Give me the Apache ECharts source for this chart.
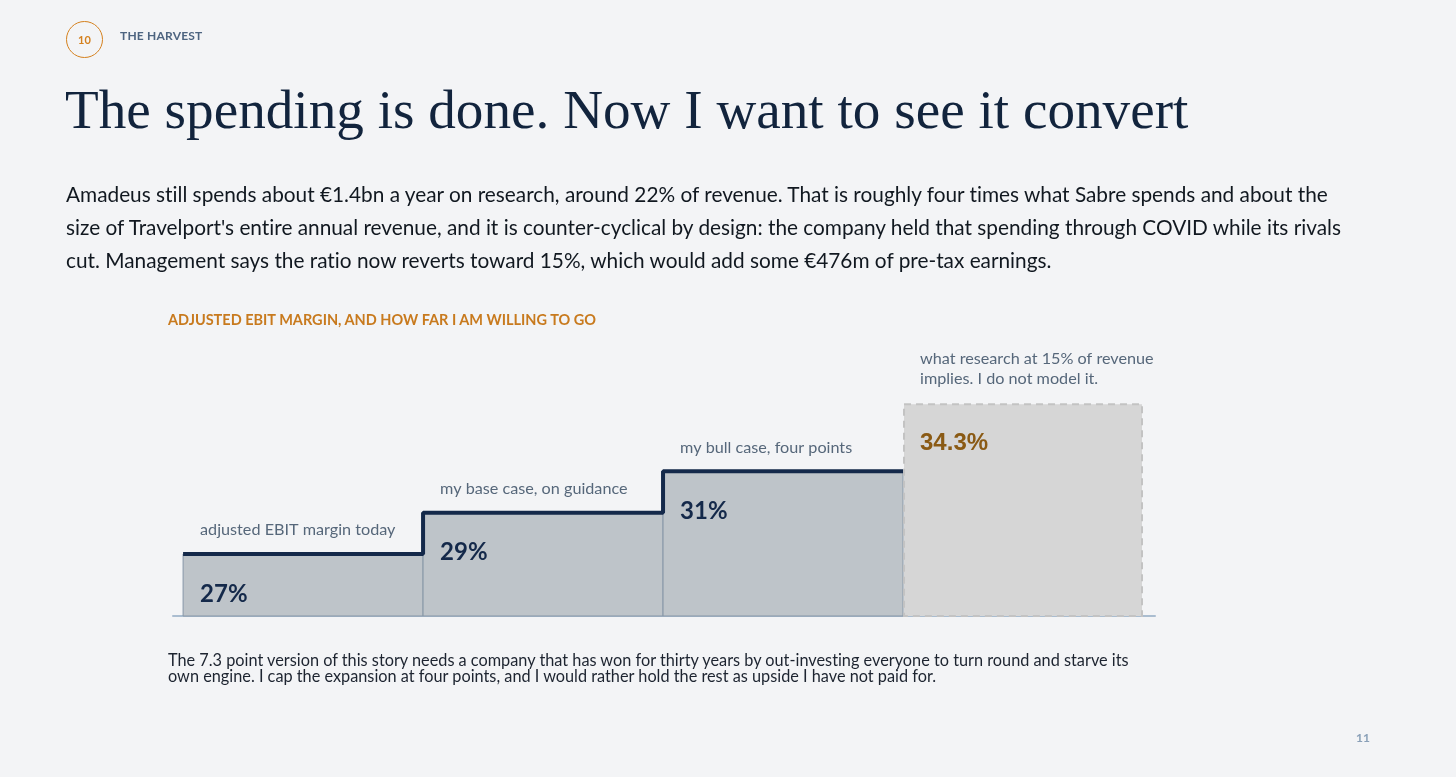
<!DOCTYPE html>
<html>
<head>
<meta charset="utf-8">
<script src="https://cdn.jsdelivr.net/npm/echarts@6/dist/echarts.min.js"></script>
<style>
  html, body { margin: 0; padding: 0; background: #f3f4f6; }
  body { width: 1456px; height: 777px; position: relative; overflow: hidden; font-family: Lato, "Noto Sans", sans-serif;
         font-variant-ligatures: none; }
  #chart { position: absolute; left: 0; top: 0; width: 1456px; height: 777px; }
  .abs { position: absolute; white-space: nowrap; }
  .badge { left: 66px; top: 21px; width: 37px; height: 37px; border: 1.5px solid #d4801e; border-radius: 50%;
           box-sizing: border-box; color: #d4801e; font-weight: 700; font-size: 11px; text-align: center; line-height: 35px; }
  .kicker { left: 120px; top: 28px; color: #4d6480; font-weight: 700; font-size: 12px; letter-spacing: 0.2px; }
  .title { left: 65px; top: 78px; color: #12243d; font-family: "Liberation Serif", serif; font-size: 55.2px; line-height: 64px; }
  .lead { left: 66px; top: 177px; color: #111820; font-size: 20.8px; line-height: 33px; }
  .ctitle { left: 168px; top: 311px; color: #c87a1e; font-weight: 700; font-size: 14.5px; }
  .note { left: 168px; top: 652px; color: #1d2430; font-size: 16.3px; line-height: 16px; }
  .page { left: 1356px; top: 730px; color: #8aa0b8; font-weight: 700; font-size: 12px; }
</style>
</head>
<body>
<div id="chart"></div>
<div class="abs badge">10</div>
<div class="abs kicker">THE HARVEST</div>
<div class="abs title">The spending is done. Now I want to see it convert</div>
<div class="abs lead">Amadeus still spends about €1.4bn a year on research, around 22% of revenue. That is roughly four times what Sabre spends and about the<br>size of Travelport's entire annual revenue, and it is counter-cyclical by design: the company held that spending through COVID while its rivals<br>cut. Management says the ratio now reverts toward 15%, which would add some €476m of pre-tax earnings.</div>
<div class="abs ctitle">ADJUSTED EBIT MARGIN, AND HOW FAR I AM WILLING TO GO</div>
<div class="abs note">The 7.3 point version of this story needs a company that has won for thirty years by out-investing everyone to turn round and starve its<br>own engine. I cap the expansion at four points, and I would rather hold the rest as upside I have not paid for.</div>
<div class="abs page">11</div>
<script>
(function(){
    var chart = echarts.init(document.getElementById('chart'));

    // data
    var cases = ['adjusted EBIT margin today', 'my base case, on guidance', 'my bull case, four points',
                 'what research at 15% of revenue\nimplies. I do not model it.'];
    var margins = [27, 29, 31, 34.3];
    var marginLabels = ['27%', '29%', '31%', '34.3%'];
    var modelled = [true, true, true, false];

    var yMin = 24, yMax = 36;

    // step line runs over the modelled cases only, ending where the unmodelled one starts
    var stepData = [];
    for (var i = 0; i < modelled.length; i++) {
        if (modelled[i]) stepData.push([i, margins[i]]);
    }
    var lastIdx = stepData.length - 1;
    stepData.push([lastIdx + 1, margins[lastIdx]]);

    function renderStep(params, api) {
        var i = api.value(0);
        var v = api.value(1);
        var topLeft = api.coord([i, v]);
        var botRight = api.coord([i + 1, yMin]);
        var x = topLeft[0], y = topLeft[1];
        var w = botRight[0] - x, h = botRight[1] - y;
        var real = modelled[i];
        return {
            type: 'group',
            children: [{
                type: 'rect',
                shape: real ? {x: x, y: y, width: w, height: h} : {x: x + 1, y: y + 1, width: w - 2, height: h - 1},
                style: real
                    ? {fill: '#bec4c9', stroke: '#8797a7', lineWidth: 1}
                    : {fill: '#d6d6d6', stroke: '#c3c3c3', lineWidth: 2, lineDash: [7, 5]}
            }, {
                type: 'text',
                style: {
                    x: x + 17, y: y - 14,
                    text: cases[i],
                    fill: '#56677a',
                    font: '16.2px Lato',
                    lineHeight: 20,
                    verticalAlign: 'bottom',
                    align: 'left'
                }
            }, {
                type: 'text',
                style: {
                    x: x + 17, y: y + 40,
                    text: marginLabels[i],
                    fill: real ? '#14294a' : '#8a5a14',
                    font: real ? 'bold 24px Lato' : 'bold 24px "Liberation Sans"',
                    verticalAlign: 'middle',
                    align: 'left'
                }
            }]
        };
    }

    var option = {
        animation: false,
        grid: {left: 173, top: 368, width: 982, height: 248},
        xAxis: {
            type: 'value',
            min: -0.042,
            max: 4.05,
            axisLine: {show: true, onZero: false, lineStyle: {color: '#aabdd0', width: 2}},
            axisTick: {show: false},
            axisLabel: {show: false},
            splitLine: {show: false}
        },
        yAxis: {
            type: 'value',
            min: yMin,
            max: yMax,
            show: false
        },
        series: [{
            type: 'custom',
            renderItem: renderStep,
            clip: false,
            encode: {x: 0, y: 1},
            data: margins.map(function (m, i) { return [i, m]; }),
            z: 2
        }, {
            type: 'line',
            step: 'end',
            symbol: 'none',
            lineStyle: {color: '#14294a', width: 4},
            data: stepData,
            z: 5
        }]
    };
    chart.setOption(option);
})();
</script>
</body>
</html>
